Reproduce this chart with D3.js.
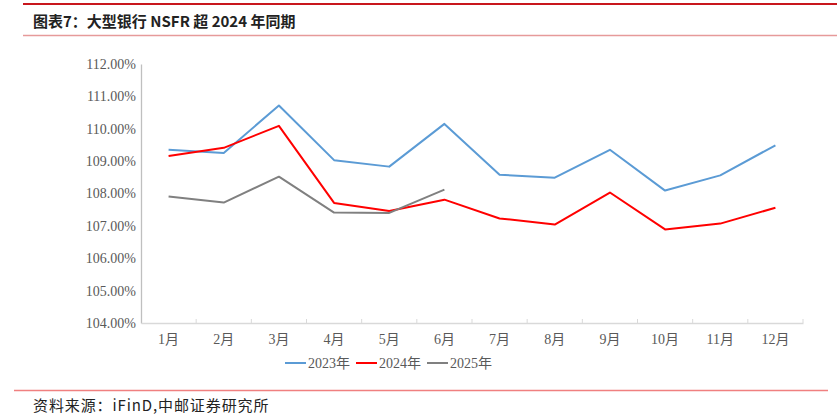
<!DOCTYPE html>
<html>
<head>
<meta charset="utf-8">
<script src="https://cdn.jsdelivr.net/npm/d3@7"></script>
<style>
  html, body { margin: 0; padding: 0; background: #fff; }
  svg { display: block; }
  .serif { font-family: "Liberation Serif", "Times New Roman", "Noto Sans CJK SC", serif; }
  .cjk { font-family: "Noto Sans CJK SC", "Noto Sans", sans-serif; }
</style>
</head>
<body>
<svg id="chart" width="837" height="414"></svg>
<script>
const months = ["1月","2月","3月","4月","5月","6月","7月","8月","9月","10月","11月","12月"];
const s2023 = [109.35, 109.25, 110.72, 109.03, 108.83, 110.15, 108.58, 108.49, 109.35, 108.09, 108.56, 109.49];
const s2024 = [109.16, 109.41, 110.09, 107.71, 107.46, 107.81, 107.23, 107.04, 108.03, 106.89, 107.07, 107.56];
const s2025 = [107.91, 107.72, 108.52, 107.41, 107.40, 108.12];
const yTicks = [104, 105, 106, 107, 108, 109, 110, 111, 112];
const seriesNames = ["2023年", "2024年", "2025年"];
const seriesColors = ["#5b9bd5", "#ff0000", "#808080"];
const titleText = "图表7：大型银行 NSFR 超 2024 年同期";
const sourceText = "资料来源：iFinD,中邮证券研究所";

const svg = d3.select("#chart");

// header decorations
svg.append("line").attr("x1", 23).attr("x2", 837).attr("y1", 4).attr("y2", 4)
  .attr("stroke", "#c8161d").attr("stroke-width", 2);
svg.append("line").attr("x1", 23).attr("x2", 837).attr("y1", 35.5).attr("y2", 35.5)
  .attr("stroke", "#e69a9a").attr("stroke-width", 1.5);
svg.append("text").attr("class", "cjk").attr("x", 33).attr("y", 27)
  .attr("font-size", 15).attr("font-weight", 700)
  .attr("fill", "#222").text(titleText);

// footer
svg.append("line").attr("x1", 14).attr("x2", 828).attr("y1", 390.5).attr("y2", 390.5)
  .attr("stroke", "#f08080").attr("stroke-width", 1.5);
svg.append("text").attr("class", "cjk").attr("x", 33).attr("y", 411)
  .attr("font-size", 15).attr("letter-spacing", 0.9)
  .attr("fill", "#222").text(sourceText);

// scales
const x = d3.scaleBand().domain(months).range([141, 803]);
const y = d3.scaleLinear().domain([104, 112]).range([323, 64]);

// y axis
const yAxis = d3.axisLeft(y).tickValues(yTicks).tickSize(0).tickPadding(5)
  .tickFormat(d => d3.format(".2f")(d) + "%");
const gy = svg.append("g").attr("transform", "translate(141,0)").call(yAxis);
gy.attr("font-family", null);
gy.select(".domain").attr("stroke", "#bfbfbf").attr("stroke-width", 1.3);
gy.selectAll("text").attr("class", "serif").attr("font-size", 14).attr("fill", "#595959");

// x axis
const xAxis = d3.axisBottom(x).tickSize(0).tickPadding(11);
const gx = svg.append("g").attr("transform", "translate(0,323)").call(xAxis);
gx.attr("font-family", null);
gx.select(".domain").attr("stroke", "#d9d9d9").attr("stroke-width", 1.3);
gx.selectAll("text").attr("class", "serif").attr("font-size", 14).attr("fill", "#595959");
// inside tick marks at band boundaries
const bounds = months.map(m => x(m)).concat([x(months[months.length - 1]) + x.bandwidth()]);
gx.selectAll(".bnd").data(bounds.slice(1)).enter().append("line")
  .attr("x1", d => d).attr("x2", d => d).attr("y1", 0).attr("y2", -4)
  .attr("stroke", "#d9d9d9").attr("stroke-width", 1);

// lines
const line = d3.line().x((d, i) => x(months[i]) + x.bandwidth() / 2).y(d => y(d));
[s2023, s2024, s2025].forEach((s, k) => {
  svg.append("path").datum(s).attr("d", line)
    .attr("fill", "none").attr("stroke", seriesColors[k]).attr("stroke-width", 2)
    .attr("stroke-linejoin", "round");
});

// legend
const legendX = [285, 356, 427];
seriesNames.forEach((name, k) => {
  const g = svg.append("g").attr("transform", `translate(${legendX[k]},363)`);
  g.append("line").attr("x1", 0).attr("x2", 21).attr("y1", 0).attr("y2", 0)
    .attr("stroke", seriesColors[k]).attr("stroke-width", 2);
  g.append("text").attr("class", "serif").attr("x", 23).attr("y", 5)
    .attr("font-size", 14).attr("fill", "#595959").text(name);
});
</script>
</body>
</html>
